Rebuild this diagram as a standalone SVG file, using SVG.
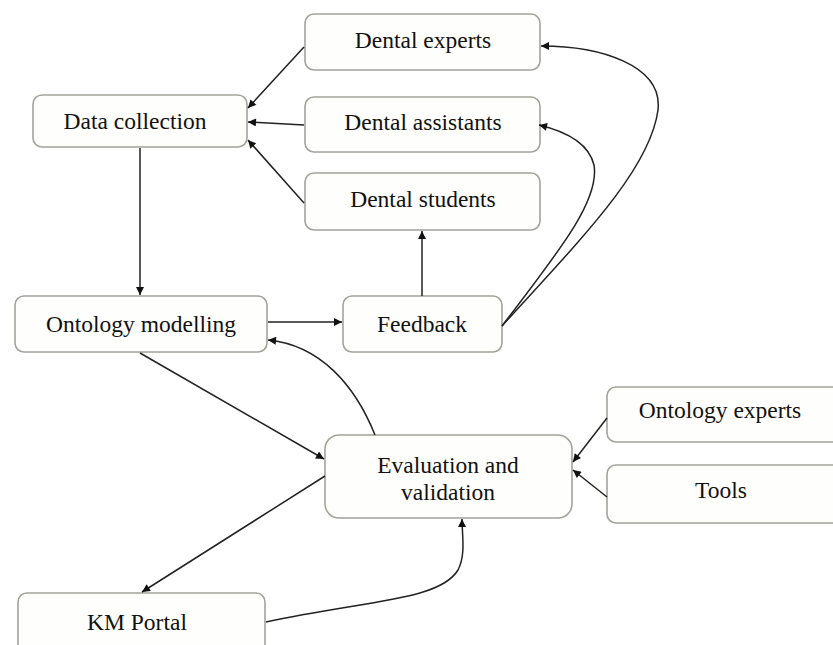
<svg xmlns="http://www.w3.org/2000/svg" width="833" height="645" viewBox="0 0 833 645">
<style>
.box{fill:#fefefc;stroke:#a3a39c;stroke-width:1.6}
.t{font-family:"Liberation Serif","Times New Roman",serif;font-size:23.5px;fill:#111;text-anchor:middle}
.c{fill:none;stroke:#222;stroke-width:1.5}
</style>
<defs>
<marker id="ah" viewBox="0 0 10 10" refX="10" refY="5" markerWidth="11" markerHeight="8" markerUnits="userSpaceOnUse" orient="auto">
<path d="M0,0 L10,5 L0,10 z" fill="#111"/>
</marker>
</defs>
<rect width="833" height="645" fill="#ffffff"/>
<g id="dental-experts"><rect class="box" x="305" y="14" width="235" height="56" rx="9"/><text class="t" x="423" y="48">Dental experts</text></g>
<g id="dental-assistants"><rect class="box" x="305" y="97" width="235" height="55" rx="9"/><text class="t" x="423" y="130">Dental assistants</text></g>
<g id="dental-students"><rect class="box" x="305" y="173" width="235" height="57" rx="9"/><text class="t" x="423" y="207">Dental students</text></g>
<g id="data-collection"><rect class="box" x="33" y="95" width="214" height="52" rx="9"/><text class="t" x="135" y="129">Data collection</text></g>
<g id="ontology-modelling"><rect class="box" x="15" y="296" width="252" height="56" rx="9"/><text class="t" x="141" y="332">Ontology modelling</text></g>
<g id="feedback"><rect class="box" x="343" y="296" width="159" height="56" rx="9"/><text class="t" x="422" y="332">Feedback</text></g>
<g id="evaluation"><rect class="box" x="325" y="435" width="247" height="83" rx="14"/><text class="t" x="448" y="473">Evaluation and</text><text class="t" x="448" y="500">validation</text></g>
<g id="ontology-experts"><rect class="box" x="607" y="387" width="240" height="55" rx="9"/><text class="t" x="720" y="418">Ontology experts</text></g>
<g id="tools"><rect class="box" x="607" y="465" width="240" height="58" rx="9"/><text class="t" x="721" y="498">Tools</text></g>
<g id="km-portal"><rect class="box" x="18" y="593" width="247" height="70" rx="9"/><text class="t" x="137" y="630">KM Portal</text></g>
<g id="connectors">
<path class="c" d="M304,47 L248,108" marker-end="url(#ah)"/>
<path class="c" d="M304,125 L248,122" marker-end="url(#ah)"/>
<path class="c" d="M304,203 L248,140" marker-end="url(#ah)"/>
<path class="c" d="M140,148 L140,295" marker-end="url(#ah)"/>
<path class="c" d="M268,322 L342,322" marker-end="url(#ah)"/>
<path class="c" d="M422,296 L422,231" marker-end="url(#ah)"/>
<path class="c" d="M502,326 C580,240 650,170 658,110 C663,65 600,46 541,46" marker-end="url(#ah)"/>
<path class="c" d="M502,326 C560,250 600,200 594,165 C588,140 560,130 539,125" marker-end="url(#ah)"/>
<path class="c" d="M140,353 L324,459" marker-end="url(#ah)"/>
<path class="c" d="M375,435 C355,385 320,345 268,340" marker-end="url(#ah)"/>
<path class="c" d="M607,418 L573,462" marker-end="url(#ah)"/>
<path class="c" d="M607,497 L573,470" marker-end="url(#ah)"/>
<path class="c" d="M325,476 L142,592" marker-end="url(#ah)"/>
<path class="c" d="M266,622 C370,600 440,600 458,570 C466,555 462,535 462,519" marker-end="url(#ah)"/>
</g>
</svg>
